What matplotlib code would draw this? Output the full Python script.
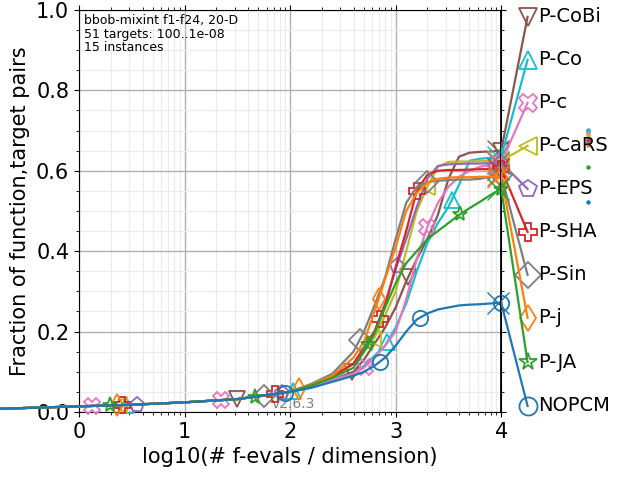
import numpy as np
import matplotlib
matplotlib.use("Agg")
import matplotlib.pyplot as plt
from matplotlib.ticker import MultipleLocator, FixedLocator

# data
x_grid = [-0.75, 0.0, 0.5, 1.0, 1.5, 2.0, 2.2, 2.4, 2.6, 2.7, 2.8, 2.9, 3.0,
          3.1, 3.2, 3.3, 3.4, 3.5, 3.6, 3.7, 3.8, 3.9, 4.0]
low = [0.008, 0.014, 0.018, 0.024, 0.032, 0.05]

names = ["P-CoBi", "P-Co", "P-c", "P-CaRS", "P-EPS", "P-SHA", "P-Sin", "P-j", "P-JA", "NOPCM"]
colors = ["#8c564b", "#17becf", "#e377c2", "#bcbd22", "#9467bd", "#d62728",
          "#7f7f7f", "#ff7f0e", "#2ca02c", "#1f77b4"]
markers = ["v", "^", "X", "<", "p", "P", "D", "d", "*", "o"]

y_cobi = low + [0.062, 0.08, 0.10, 0.13, 0.17, 0.21, 0.26, 0.325, 0.38, 0.43, 0.49, 0.58, 0.635, 0.645, 0.647, 0.648, 0.65]
y_co = low + [0.062, 0.08, 0.095, 0.115, 0.14, 0.165, 0.21, 0.27, 0.35, 0.42, 0.47, 0.51, 0.565, 0.625, 0.63, 0.632, 0.635]
y_c = low + [0.062, 0.08, 0.095, 0.11, 0.135, 0.165, 0.20, 0.28, 0.38, 0.46, 0.52, 0.56, 0.585, 0.60, 0.61, 0.615, 0.62]
y_cars = low + [0.066, 0.088, 0.12, 0.15, 0.185, 0.24, 0.30, 0.40, 0.50, 0.56, 0.61, 0.622, 0.623, 0.623, 0.624, 0.624, 0.625]
y_eps = low + [0.066, 0.088, 0.12, 0.155, 0.20, 0.27, 0.355, 0.43, 0.51, 0.58, 0.612, 0.616, 0.617, 0.618, 0.618, 0.619, 0.62]
y_sha = low + [0.066, 0.088, 0.12, 0.16, 0.20, 0.265, 0.36, 0.45, 0.55, 0.59, 0.60, 0.602, 0.602, 0.603, 0.604, 0.604, 0.605]
y_sin = low + [0.07, 0.095, 0.15, 0.20, 0.265, 0.335, 0.43, 0.52, 0.56, 0.572, 0.575, 0.577, 0.578, 0.578, 0.58, 0.585, 0.59]
y_j = low + [0.068, 0.09, 0.135, 0.175, 0.25, 0.33, 0.41, 0.50, 0.545, 0.57, 0.58, 0.583, 0.584, 0.584, 0.585, 0.585, 0.585]
y_ja = low + [0.066, 0.085, 0.11, 0.15, 0.195, 0.26, 0.32, 0.37, 0.40, 0.43, 0.45, 0.47, 0.49, 0.507, 0.523, 0.54, 0.555]
y_nopcm = low + [0.06, 0.075, 0.09, 0.10, 0.115, 0.135, 0.165, 0.20, 0.23, 0.245, 0.255, 0.26, 0.265, 0.267, 0.268, 0.27, 0.272]
curves = [y_cobi, y_co, y_c, y_cars, y_eps, y_sha, y_sin, y_j, y_ja, y_nopcm]

# x positions of the markers along each curve
mark_x = [
    [1.5, 2.59, 3.12, 4.0],
    [0.45, 2.03, 2.92, 3.53, 4.0],
    [0.12, 1.35, 2.71, 3.3, 4.0],
    [0.38, 2.79, 3.3, 4.0],
    [0.55, 1.92, 3.01, 4.0],
    [0.41, 1.86, 2.85, 3.2, 4.0],
    [1.75, 2.66, 3.3, 4.0],
    [0.36, 2.08, 2.84, 4.0],
    [0.29, 1.67, 2.74, 3.61, 4.0],
    [1.95, 2.85, 3.23, 4.0],
]
label_y = [0.983, 0.876, 0.769, 0.662, 0.555, 0.448, 0.341, 0.234, 0.124, 0.015]
dot_y = [0.70, 0.702, 0.695, 0.688, 0.68, 0.675, 0.67, 0.665, 0.61, 0.522]
label_x = 4.25
dot_x = 4.82

fig = plt.figure(figsize=(6.4, 4.8), dpi=100)
ax = fig.add_axes([0.1234, 0.1417, 0.6597, 0.8375])

for i in range(len(names)):
    y = curves[i]
    c = colors[i]
    ax.plot(x_grid, y, color=c, lw=1.6, clip_on=False, zorder=3)
    mx = np.array(mark_x[i])
    my = np.interp(mx, x_grid, y)
    ax.plot(mx, my, ls="none", marker=markers[i], ms=11, mfc="none", mec=c,
            mew=1.3, clip_on=False, zorder=3)
    ax.plot([x_grid[-1] - 0.03], [y[-1]], ls="none", marker="x", ms=16, mec=c,
            mew=1.0, clip_on=False, zorder=3)
    # connector to the label
    ax.plot([x_grid[-1], label_x], [y[-1], label_y[i]], color=c, lw=1.6,
            clip_on=False, zorder=3)
    ax.plot([label_x], [label_y[i]], ls="none", marker=markers[i], ms=13,
            mfc="none", mec=c, mew=1.3, clip_on=False, zorder=3)
    ax.text(label_x + 0.1, label_y[i], names[i], fontsize=14, va="center",
            ha="left", clip_on=False)
    ax.plot([dot_x], [dot_y[i]], ls="none", marker="o", ms=2.2, color=c,
            clip_on=False)

ax.axvline(4.0, color="black", lw=2, zorder=4)

ax.xaxis.set_major_locator(FixedLocator([0, 1, 2, 3, 4]))
minors = [n + np.log10(k) for n in range(4) for k in range(2, 10)]
ax.xaxis.set_minor_locator(FixedLocator(minors))
ax.yaxis.set_major_locator(FixedLocator([0.0, 0.2, 0.4, 0.6, 0.8, 1.0]))
ax.yaxis.set_minor_locator(MultipleLocator(0.05))
ax.set_xlim(0, 4)
ax.set_ylim(0, 1)
ax.grid(True, which="major", color="#b0b0b0", lw=1.0, zorder=0)
ax.grid(True, which="minor", color="#ebebeb", lw=0.8, zorder=0)
ax.tick_params(which="both", top=True, right=True, labelsize=15)

ax.set_xlabel("log10(# f-evals / dimension)", fontsize=15)
ax.set_ylabel("Fraction of function,target pairs", fontsize=15)

ax.text(0.012, 0.99, "bbob-mixint f1-f24, 20-D\n51 targets: 100..1e-08\n15 instances",
        transform=ax.transAxes, fontsize=9, va="top", ha="left", linespacing=1.05)
ax.text(1.82, 0.01, "v2.6.3", color="#808080", fontsize=10, zorder=2)

fig.savefig("out.png", dpi=100)
